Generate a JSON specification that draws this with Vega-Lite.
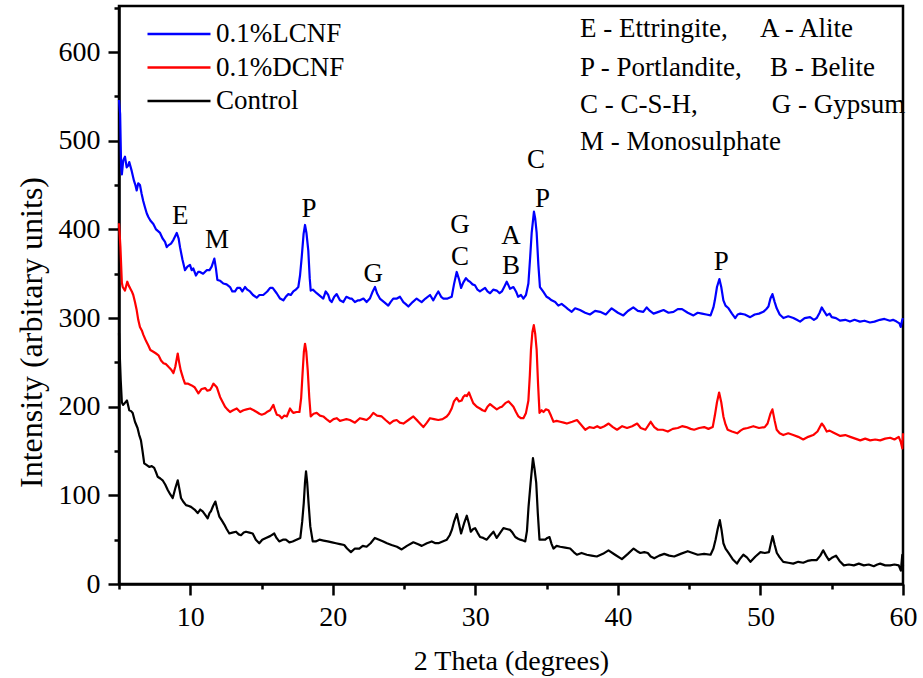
{
  "$schema": "https://vega.github.io/schema/vega-lite/v6.json",
  "width": 784,
  "height": 578,
  "autosize": {"type": "none"},
  "padding": {"left": 119, "top": 6, "right": 20, "bottom": 94},
  "config": {
    "font": "'Liberation Serif', 'Times New Roman', serif",
    "view": {"stroke": "black", "strokeWidth": 2.5},
    "axis": {"grid": false, "domainColor": "black", "domainWidth": 2.5, "tickColor": "black", "tickWidth": 2.5, "labelColor": "black", "labelFont": "'Liberation Serif', 'Times New Roman', serif", "labelFontSize": 28, "titleFont": "'Liberation Serif', 'Times New Roman', serif", "titleColor": "black", "titleFontWeight": "normal", "labelFlush": false, "labelOverlap": false}
  },
  "encoding": {
    "x": {"field": "x", "type": "quantitative", "scale": {"domain": [5, 60], "nice": false, "zero": false},
      "axis": {"title": "2 Theta (degrees)", "titleFontSize": 28, "values": [5,10,15,20,25,30,35,40,45,50,55,60],
        "tickSize": {"condition": {"test": "datum.value % 10 === 0", "value": 11}, "value": 5},
        "labelExpr": "datum.value % 10 === 0 && datum.value > 5 ? datum.label : ''",
        "labelPadding": 8, "titleY": 85, "titleBaseline": "alphabetic"}},
    "y": {"field": "y", "type": "quantitative", "scale": {"domain": [0, 652], "nice": false},
      "axis": {"title": "Intensity (arbitary units)", "titleFontSize": 32, "values": [0,50,100,150,200,250,300,350,400,450,500,550,600,650],
        "tickSize": {"condition": {"test": "datum.value % 100 === 0", "value": 11}, "value": 5},
        "labelExpr": "datum.value % 100 === 0 ? datum.label : ''",
        "labelPadding": 8, "titleX": -78, "titleY": 326, "titleAlign": "center", "titleBaseline": "alphabetic", "titleAngle": 270}}
  },
  "layer": [
    {
      "data": {"values": [
        {"x":5.0,"y":546},{"x":5.08,"y":530},{"x":5.15,"y":470},{"x":5.2,"y":462},{"x":5.3,"y":478},{"x":5.42,"y":482},{"x":5.54,"y":470},{"x":5.65,"y":472},{"x":5.72,"y":476},{"x":5.89,"y":466},
        {"x":6.05,"y":455},{"x":6.15,"y":450},{"x":6.24,"y":444},{"x":6.35,"y":452},{"x":6.47,"y":450},{"x":6.59,"y":440},{"x":6.7,"y":432},{"x":6.82,"y":425},{"x":6.95,"y":418},{"x":7.06,"y":414},
        {"x":7.2,"y":410},{"x":7.41,"y":406},{"x":7.6,"y":400},{"x":7.88,"y":396},{"x":8.05,"y":390},{"x":8.23,"y":386},{"x":8.35,"y":380},{"x":8.46,"y":382},{"x":8.65,"y":384},{"x":8.81,"y":388},
        {"x":9.05,"y":396},{"x":9.18,"y":390},{"x":9.28,"y":380},{"x":9.45,"y":366},{"x":9.63,"y":354},{"x":9.8,"y":358},{"x":9.98,"y":360},{"x":10.1,"y":354},{"x":10.21,"y":356},{"x":10.4,"y":348},
        {"x":10.55,"y":352},{"x":10.68,"y":352},{"x":10.9,"y":350},{"x":11.15,"y":354},{"x":11.35,"y":354},{"x":11.5,"y":358},{"x":11.69,"y":367},{"x":11.8,"y":356},{"x":11.9,"y":343},{"x":12.1,"y":342},
        {"x":12.32,"y":339},{"x":12.55,"y":338},{"x":12.79,"y":335},{"x":12.95,"y":330},{"x":13.14,"y":330},{"x":13.3,"y":334},{"x":13.49,"y":334},{"x":13.65,"y":330},{"x":13.84,"y":335},{"x":14.0,"y":332},
        {"x":14.19,"y":330},{"x":14.4,"y":326},{"x":14.66,"y":323},{"x":14.85,"y":326},{"x":15.12,"y":326},{"x":15.4,"y":330},{"x":15.6,"y":334},{"x":15.78,"y":334},{"x":16.06,"y":328},{"x":16.3,"y":322},
        {"x":16.53,"y":320},{"x":16.7,"y":324},{"x":16.88,"y":327},{"x":17.05,"y":326},{"x":17.23,"y":330},{"x":17.4,"y":332},{"x":17.58,"y":335},{"x":17.7,"y":348},{"x":17.82,"y":369},{"x":17.95,"y":395},
        {"x":18.05,"y":405},{"x":18.15,"y":396},{"x":18.28,"y":376},{"x":18.38,"y":345},{"x":18.45,"y":331},{"x":18.6,"y":332},{"x":18.87,"y":328},{"x":19.1,"y":325},{"x":19.33,"y":322},{"x":19.5,"y":330},
        {"x":19.68,"y":326},{"x":19.8,"y":320},{"x":19.92,"y":318},{"x":20.1,"y":324},{"x":20.27,"y":327},{"x":20.5,"y":320},{"x":20.73,"y":318},{"x":20.95,"y":324},{"x":21.2,"y":322},{"x":21.32,"y":322},
        {"x":21.55,"y":318},{"x":21.78,"y":320},{"x":21.9,"y":320},{"x":22.15,"y":322},{"x":22.37,"y":318},{"x":22.6,"y":322},{"x":22.8,"y":330},{"x":22.96,"y":335},{"x":23.1,"y":328},{"x":23.3,"y":322},
        {"x":23.6,"y":318},{"x":23.89,"y":314},{"x":24.05,"y":318},{"x":24.24,"y":322},{"x":24.5,"y":322},{"x":24.71,"y":324},{"x":24.95,"y":318},{"x":25.1,"y":316},{"x":25.3,"y":313},{"x":25.6,"y":318},
        {"x":25.88,"y":322},{"x":26.05,"y":320},{"x":26.23,"y":318},{"x":26.5,"y":322},{"x":26.82,"y":326},{"x":27.05,"y":320},{"x":27.25,"y":326},{"x":27.4,"y":330},{"x":27.6,"y":324},{"x":27.76,"y":322},
        {"x":28.05,"y":322},{"x":28.34,"y":324},{"x":28.5,"y":338},{"x":28.69,"y":352},{"x":28.85,"y":344},{"x":29.0,"y":334},{"x":29.15,"y":340},{"x":29.34,"y":345},{"x":29.5,"y":342},{"x":29.62,"y":341},
        {"x":29.8,"y":338},{"x":29.97,"y":337},{"x":30.15,"y":332},{"x":30.32,"y":330},{"x":30.5,"y":332},{"x":30.68,"y":334},{"x":30.85,"y":330},{"x":31.03,"y":328},{"x":31.25,"y":332},{"x":31.5,"y":331},
        {"x":31.7,"y":328},{"x":31.86,"y":330},{"x":32.05,"y":336},{"x":32.2,"y":341},{"x":32.35,"y":336},{"x":32.43,"y":333},{"x":32.67,"y":335},{"x":32.85,"y":330},{"x":33.0,"y":324},{"x":33.2,"y":326},
        {"x":33.37,"y":322},{"x":33.55,"y":326},{"x":33.72,"y":339},{"x":33.85,"y":370},{"x":33.95,"y":396},{"x":34.11,"y":420},{"x":34.2,"y":412},{"x":34.3,"y":396},{"x":34.42,"y":360},{"x":34.53,"y":335},
        {"x":34.75,"y":330},{"x":35.0,"y":324},{"x":35.2,"y":322},{"x":35.35,"y":320},{"x":35.6,"y":318},{"x":35.82,"y":314},{"x":36.05,"y":316},{"x":36.29,"y":313},{"x":36.5,"y":310},{"x":36.76,"y":307},
        {"x":37.0,"y":311},{"x":37.34,"y":309},{"x":37.7,"y":306},{"x":38.04,"y":304},{"x":38.4,"y":308},{"x":38.75,"y":307},{"x":39.15,"y":304},{"x":39.56,"y":311},{"x":40.0,"y":306},{"x":40.38,"y":303},
        {"x":40.7,"y":308},{"x":41.08,"y":312},{"x":41.4,"y":308},{"x":41.78,"y":307},{"x":42.02,"y":312},{"x":42.25,"y":308},{"x":42.5,"y":305},{"x":42.85,"y":307},{"x":43.2,"y":309},{"x":43.55,"y":306},
        {"x":43.9,"y":307},{"x":44.2,"y":310},{"x":44.5,"y":310},{"x":44.9,"y":306},{"x":45.3,"y":303},{"x":45.6,"y":306},{"x":45.9,"y":305},{"x":46.2,"y":304},{"x":46.5,"y":303},{"x":46.7,"y":312},
        {"x":46.8,"y":320},{"x":46.95,"y":335},{"x":47.12,"y":344},{"x":47.25,"y":335},{"x":47.4,"y":320},{"x":47.55,"y":314},{"x":47.76,"y":311},{"x":48.0,"y":305},{"x":48.23,"y":300},{"x":48.4,"y":304},
        {"x":48.58,"y":305},{"x":48.9,"y":304},{"x":49.28,"y":301},{"x":49.6,"y":304},{"x":49.9,"y":305},{"x":50.2,"y":307},{"x":50.4,"y":310},{"x":50.56,"y":313},{"x":50.7,"y":322},{"x":50.84,"y":327},
        {"x":51.0,"y":318},{"x":51.14,"y":311},{"x":51.35,"y":304},{"x":51.61,"y":300},{"x":51.95,"y":302},{"x":52.31,"y":300},{"x":52.55,"y":298},{"x":52.78,"y":296},{"x":53.1,"y":300},{"x":53.48,"y":301},
        {"x":53.75,"y":298},{"x":53.95,"y":300},{"x":54.15,"y":306},{"x":54.3,"y":312},{"x":54.45,"y":308},{"x":54.65,"y":303},{"x":54.85,"y":305},{"x":55.0,"y":301},{"x":55.3,"y":300},{"x":55.58,"y":297},
        {"x":55.95,"y":298},{"x":56.28,"y":296},{"x":56.6,"y":298},{"x":56.98,"y":296},{"x":57.3,"y":297},{"x":57.68,"y":295},{"x":58.0,"y":296},{"x":58.38,"y":298},{"x":58.7,"y":299},{"x":59.08,"y":297},
        {"x":59.3,"y":298},{"x":59.55,"y":296},{"x":59.75,"y":294},{"x":59.84,"y":290},{"x":59.95,"y":298},{"x":60.0,"y":300}
      ]},
      "mark": {"type": "line", "strokeWidth": 2.2, "strokeJoin": "round"},
      "encoding": {"color": {"datum": "0.1%LCNF", "type": "nominal",
        "scale": {"domain": ["0.1%LCNF", "0.1%DCNF", "Control"], "range": ["#0000ff", "#ff0000", "#000000"]},
        "legend": {"orient": "none", "legendX": 41, "legendY": 9, "title": null, "symbolType": "M-1.8,0H1.8", "symbolSize": 1225, "symbolStrokeWidth": 2.5, "labelFont": "'Liberation Serif', 'Times New Roman', serif", "labelFontSize": 27, "labelColor": "black", "labelOffset": 18, "rowPadding": 1.5, "padding": 0}}}
    },
    {
      "data": {"values": [
        {"x":5.0,"y":407},{"x":5.1,"y":380},{"x":5.2,"y":340},{"x":5.26,"y":335},{"x":5.42,"y":331},{"x":5.58,"y":341},{"x":5.7,"y":336},{"x":5.77,"y":334},{"x":5.9,"y":330},{"x":6.0,"y":326},
        {"x":6.12,"y":318},{"x":6.24,"y":309},{"x":6.35,"y":298},{"x":6.47,"y":290},{"x":6.6,"y":286},{"x":6.71,"y":281},{"x":6.9,"y":274},{"x":7.06,"y":269},{"x":7.2,"y":264},{"x":7.41,"y":262},
        {"x":7.6,"y":260},{"x":7.77,"y":258},{"x":7.95,"y":252},{"x":8.12,"y":249},{"x":8.3,"y":248},{"x":8.47,"y":245},{"x":8.65,"y":242},{"x":8.82,"y":238},{"x":8.95,"y":245},{"x":9.05,"y":254},
        {"x":9.12,"y":260},{"x":9.22,"y":250},{"x":9.33,"y":241},{"x":9.5,"y":232},{"x":9.63,"y":226},{"x":9.85,"y":226},{"x":10.1,"y":224},{"x":10.3,"y":222},{"x":10.57,"y":215},{"x":10.8,"y":220},
        {"x":11.04,"y":221},{"x":11.2,"y":218},{"x":11.39,"y":219},{"x":11.5,"y":222},{"x":11.62,"y":226},{"x":11.75,"y":224},{"x":11.86,"y":222},{"x":12.09,"y":211},{"x":12.25,"y":206},{"x":12.44,"y":200},
        {"x":12.6,"y":197},{"x":12.79,"y":194},{"x":13.0,"y":196},{"x":13.26,"y":198},{"x":13.5,"y":194},{"x":13.73,"y":196},{"x":13.95,"y":197},{"x":14.2,"y":198},{"x":14.45,"y":196},{"x":14.66,"y":194},
        {"x":14.85,"y":192},{"x":15.01,"y":191},{"x":15.2,"y":192},{"x":15.37,"y":194},{"x":15.6,"y":196},{"x":15.83,"y":202},{"x":15.95,"y":196},{"x":16.07,"y":191},{"x":16.25,"y":190},{"x":16.42,"y":187},
        {"x":16.6,"y":190},{"x":16.77,"y":189},{"x":16.9,"y":194},{"x":17.0,"y":198},{"x":17.12,"y":195},{"x":17.24,"y":193},{"x":17.45,"y":194},{"x":17.66,"y":194},{"x":17.78,"y":210},{"x":17.89,"y":241},
        {"x":17.97,"y":262},{"x":18.05,"y":271},{"x":18.14,"y":262},{"x":18.24,"y":241},{"x":18.35,"y":210},{"x":18.45,"y":189},{"x":18.65,"y":192},{"x":18.87,"y":193},{"x":19.1,"y":190},{"x":19.33,"y":189},
        {"x":19.55,"y":186},{"x":19.8,"y":183},{"x":20.05,"y":186},{"x":20.27,"y":187},{"x":20.5,"y":184},{"x":20.73,"y":185},{"x":20.95,"y":186},{"x":21.2,"y":185},{"x":21.55,"y":182},{"x":21.9,"y":187},
        {"x":22.15,"y":186},{"x":22.37,"y":185},{"x":22.6,"y":188},{"x":22.84,"y":193},{"x":23.1,"y":190},{"x":23.43,"y":189},{"x":23.7,"y":185},{"x":24.0,"y":181},{"x":24.25,"y":184},{"x":24.48,"y":185},
        {"x":24.7,"y":182},{"x":24.95,"y":181},{"x":25.3,"y":185},{"x":25.65,"y":189},{"x":25.95,"y":184},{"x":26.35,"y":177},{"x":26.6,"y":182},{"x":26.82,"y":187},{"x":27.1,"y":186},{"x":27.4,"y":185},
        {"x":27.7,"y":186},{"x":27.99,"y":189},{"x":28.15,"y":192},{"x":28.34,"y":198},{"x":28.5,"y":206},{"x":28.69,"y":210},{"x":28.85,"y":206},{"x":29.04,"y":207},{"x":29.15,"y":211},{"x":29.27,"y":213},
        {"x":29.4,"y":212},{"x":29.55,"y":216},{"x":29.7,"y":210},{"x":29.85,"y":204},{"x":30.1,"y":200},{"x":30.32,"y":198},{"x":30.5,"y":196},{"x":30.68,"y":195},{"x":30.85,"y":200},{"x":31.03,"y":203},
        {"x":31.25,"y":200},{"x":31.5,"y":197},{"x":31.7,"y":199},{"x":31.86,"y":200},{"x":32.1,"y":204},{"x":32.32,"y":206},{"x":32.5,"y":203},{"x":32.67,"y":200},{"x":32.85,"y":194},{"x":33.02,"y":189},
        {"x":33.2,"y":187},{"x":33.37,"y":187},{"x":33.55,"y":193},{"x":33.72,"y":207},{"x":33.82,"y":235},{"x":33.9,"y":264},{"x":34.0,"y":284},{"x":34.1,"y":292},{"x":34.2,"y":282},{"x":34.3,"y":264},
        {"x":34.4,"y":225},{"x":34.5,"y":193},{"x":34.65,"y":196},{"x":34.78,"y":194},{"x":34.95,"y":197},{"x":35.13,"y":196},{"x":35.3,"y":190},{"x":35.48,"y":183},{"x":35.7,"y":184},{"x":35.95,"y":183},
        {"x":36.2,"y":182},{"x":36.42,"y":181},{"x":36.8,"y":183},{"x":37.13,"y":185},{"x":37.4,"y":180},{"x":37.71,"y":174},{"x":38.0,"y":177},{"x":38.3,"y":176},{"x":38.55,"y":178},{"x":38.77,"y":176},
        {"x":39.05,"y":178},{"x":39.35,"y":181},{"x":39.65,"y":177},{"x":39.94,"y":174},{"x":40.3,"y":178},{"x":40.64,"y":176},{"x":41.0,"y":178},{"x":41.35,"y":181},{"x":41.6,"y":176},{"x":41.93,"y":174},
        {"x":42.1,"y":178},{"x":42.3,"y":183},{"x":42.55,"y":177},{"x":42.8,"y":174},{"x":43.15,"y":174},{"x":43.5,"y":172},{"x":43.85,"y":175},{"x":44.2,"y":176},{"x":44.5,"y":178},{"x":44.8,"y":177},
        {"x":45.1,"y":175},{"x":45.35,"y":174},{"x":45.7,"y":176},{"x":46.05,"y":177},{"x":46.35,"y":175},{"x":46.65,"y":177},{"x":46.8,"y":190},{"x":46.95,"y":205},{"x":47.1,"y":216},{"x":47.25,"y":205},
        {"x":47.4,"y":189},{"x":47.55,"y":180},{"x":47.7,"y":174},{"x":48.0,"y":172},{"x":48.37,"y":170},{"x":48.6,"y":173},{"x":48.8,"y":175},{"x":49.1,"y":176},{"x":49.5,"y":178},{"x":49.9,"y":176},
        {"x":50.3,"y":177},{"x":50.5,"y":181},{"x":50.7,"y":192},{"x":50.84,"y":197},{"x":51.0,"y":184},{"x":51.14,"y":174},{"x":51.35,"y":170},{"x":51.6,"y":168},{"x":51.95,"y":170},{"x":52.3,"y":168},
        {"x":52.65,"y":166},{"x":53.0,"y":163},{"x":53.35,"y":166},{"x":53.7,"y":168},{"x":54.0,"y":172},{"x":54.3,"y":181},{"x":54.45,"y":178},{"x":54.65,"y":172},{"x":54.85,"y":173},{"x":55.1,"y":171},
        {"x":55.35,"y":169},{"x":55.6,"y":167},{"x":55.95,"y":168},{"x":56.3,"y":166},{"x":56.65,"y":164},{"x":57.0,"y":162},{"x":57.35,"y":164},{"x":57.7,"y":162},{"x":58.05,"y":163},{"x":58.4,"y":162},
        {"x":58.75,"y":164},{"x":59.1,"y":165},{"x":59.4,"y":163},{"x":59.7,"y":166},{"x":59.85,"y":160},{"x":59.95,"y":153},{"x":60.0,"y":170}
      ]},
      "mark": {"type": "line", "strokeWidth": 2.2, "strokeJoin": "round"},
      "encoding": {"color": {"datum": "0.1%DCNF", "type": "nominal"}}
    },
    {
      "data": {"values": [
        {"x":5.0,"y":283},{"x":5.05,"y":260},{"x":5.12,"y":230},{"x":5.2,"y":205},{"x":5.28,"y":202},{"x":5.4,"y":204},{"x":5.56,"y":207},{"x":5.72,"y":196},{"x":5.85,"y":195},{"x":5.96,"y":193},
        {"x":6.12,"y":183},{"x":6.3,"y":176},{"x":6.42,"y":168},{"x":6.54,"y":162},{"x":6.65,"y":150},{"x":6.77,"y":136},{"x":6.95,"y":134},{"x":7.12,"y":132},{"x":7.3,"y":133},{"x":7.47,"y":131},
        {"x":7.6,"y":126},{"x":7.71,"y":121},{"x":7.9,"y":119},{"x":8.06,"y":117},{"x":8.25,"y":112},{"x":8.42,"y":106},{"x":8.6,"y":101},{"x":8.77,"y":97},{"x":8.95,"y":108},{"x":9.12,"y":117},
        {"x":9.25,"y":106},{"x":9.35,"y":97},{"x":9.5,"y":93},{"x":9.7,"y":89},{"x":9.9,"y":88},{"x":10.05,"y":87},{"x":10.3,"y":84},{"x":10.52,"y":80},{"x":10.7,"y":84},{"x":10.87,"y":82},
        {"x":11.05,"y":78},{"x":11.22,"y":74},{"x":11.35,"y":80},{"x":11.45,"y":82},{"x":11.6,"y":88},{"x":11.76,"y":93},{"x":11.9,"y":84},{"x":12.04,"y":76},{"x":12.2,"y":72},{"x":12.39,"y":67},
        {"x":12.55,"y":62},{"x":12.74,"y":57},{"x":12.95,"y":58},{"x":13.21,"y":59},{"x":13.4,"y":56},{"x":13.56,"y":55},{"x":13.75,"y":58},{"x":13.91,"y":59},{"x":14.15,"y":58},{"x":14.38,"y":57},
        {"x":14.6,"y":50},{"x":14.84,"y":46},{"x":15.05,"y":50},{"x":15.31,"y":52},{"x":15.6,"y":54},{"x":15.89,"y":57},{"x":16.05,"y":52},{"x":16.24,"y":48},{"x":16.5,"y":50},{"x":16.71,"y":50},
        {"x":16.95,"y":47},{"x":17.18,"y":48},{"x":17.45,"y":50},{"x":17.72,"y":52},{"x":17.85,"y":70},{"x":17.96,"y":91},{"x":18.05,"y":115},{"x":18.12,"y":127},{"x":18.2,"y":115},{"x":18.3,"y":91},
        {"x":18.42,"y":65},{"x":18.59,"y":48},{"x":18.8,"y":48},{"x":19.06,"y":50},{"x":19.35,"y":49},{"x":19.64,"y":48},{"x":19.95,"y":47},{"x":20.22,"y":46},{"x":20.5,"y":45},{"x":20.8,"y":44},
        {"x":21.0,"y":40},{"x":21.27,"y":36},{"x":21.55,"y":40},{"x":21.86,"y":40},{"x":22.1,"y":43},{"x":22.37,"y":42},{"x":22.65,"y":46},{"x":22.95,"y":52},{"x":23.25,"y":50},{"x":23.54,"y":48},
        {"x":23.8,"y":46},{"x":24.12,"y":44},{"x":24.5,"y":42},{"x":24.83,"y":39},{"x":25.2,"y":43},{"x":25.65,"y":47},{"x":25.95,"y":45},{"x":26.24,"y":43},{"x":26.6,"y":46},{"x":26.94,"y":48},
        {"x":27.2,"y":46},{"x":27.41,"y":46},{"x":27.7,"y":48},{"x":28.0,"y":50},{"x":28.2,"y":55},{"x":28.35,"y":61},{"x":28.5,"y":70},{"x":28.7,"y":79},{"x":28.85,"y":68},{"x":29.0,"y":57},
        {"x":29.2,"y":68},{"x":29.4,"y":77},{"x":29.55,"y":68},{"x":29.68,"y":59},{"x":29.85,"y":62},{"x":29.98,"y":63},{"x":30.15,"y":58},{"x":30.33,"y":53},{"x":30.55,"y":52},{"x":30.8,"y":50},
        {"x":31.05,"y":55},{"x":31.27,"y":59},{"x":31.5,"y":52},{"x":31.75,"y":58},{"x":31.97,"y":63},{"x":32.2,"y":62},{"x":32.44,"y":61},{"x":32.6,"y":58},{"x":32.8,"y":53},{"x":33.0,"y":51},
        {"x":33.15,"y":50},{"x":33.35,"y":49},{"x":33.5,"y":48},{"x":33.62,"y":60},{"x":33.73,"y":87},{"x":33.88,"y":115},{"x":34.04,"y":142},{"x":34.15,"y":130},{"x":34.27,"y":114},{"x":34.38,"y":80},
        {"x":34.5,"y":50},{"x":34.7,"y":50},{"x":34.9,"y":50},{"x":35.05,"y":52},{"x":35.2,"y":53},{"x":35.35,"y":45},{"x":35.48,"y":40},{"x":35.7,"y":43},{"x":35.95,"y":42},{"x":36.3,"y":41},
        {"x":36.65,"y":40},{"x":36.9,"y":36},{"x":37.12,"y":33},{"x":37.45,"y":35},{"x":37.82,"y":33},{"x":38.15,"y":32},{"x":38.52,"y":31},{"x":38.95,"y":34},{"x":39.34,"y":38},{"x":39.8,"y":33},
        {"x":40.28,"y":28},{"x":40.7,"y":34},{"x":41.1,"y":40},{"x":41.35,"y":37},{"x":41.57,"y":35},{"x":41.85,"y":36},{"x":42.1,"y":35},{"x":42.3,"y":31},{"x":42.55,"y":29},{"x":42.9,"y":32},
        {"x":43.25,"y":34},{"x":43.6,"y":32},{"x":43.95,"y":31},{"x":44.4,"y":34},{"x":44.9,"y":37},{"x":45.25,"y":35},{"x":45.6,"y":33},{"x":46.05,"y":34},{"x":46.5,"y":33},{"x":46.7,"y":40},
        {"x":46.85,"y":50},{"x":47.0,"y":62},{"x":47.15,"y":72},{"x":47.28,"y":60},{"x":47.4,"y":46},{"x":47.55,"y":40},{"x":47.76,"y":35},{"x":48.05,"y":28},{"x":48.35,"y":23},{"x":48.55,"y":28},
        {"x":48.8,"y":33},{"x":49.05,"y":30},{"x":49.3,"y":25},{"x":49.65,"y":31},{"x":50.0,"y":36},{"x":50.3,"y":35},{"x":50.6,"y":36},{"x":50.72,"y":45},{"x":50.85,"y":54},{"x":51.0,"y":44},
        {"x":51.15,"y":35},{"x":51.35,"y":30},{"x":51.6,"y":25},{"x":51.95,"y":24},{"x":52.3,"y":23},{"x":52.65,"y":25},{"x":53.0,"y":24},{"x":53.3,"y":26},{"x":53.6,"y":27},{"x":53.95,"y":27},
        {"x":54.2,"y":32},{"x":54.4,"y":38},{"x":54.6,"y":32},{"x":54.8,"y":27},{"x":55.05,"y":30},{"x":55.3,"y":32},{"x":55.55,"y":26},{"x":55.85,"y":21},{"x":56.2,"y":22},{"x":56.55,"y":21},
        {"x":56.9,"y":23},{"x":57.25,"y":21},{"x":57.6,"y":22},{"x":57.95,"y":20},{"x":58.2,"y":22},{"x":58.4,"y":23},{"x":58.75,"y":21},{"x":59.1,"y":21},{"x":59.4,"y":22},{"x":59.7,"y":21},
        {"x":59.85,"y":15},{"x":59.95,"y":33},{"x":60.0,"y":20}
      ]},
      "mark": {"type": "line", "strokeWidth": 2.2, "strokeJoin": "round"},
      "encoding": {"color": {"datum": "Control", "type": "nominal"}}
    },
    {
      "data": {"values": [
        {"x":9.30,"y":406,"label":"E"},{"x":11.87,"y":379,"label":"M"},{"x":18.33,"y":414,"label":"P"},{"x":22.84,"y":341,"label":"G"},
        {"x":28.92,"y":395.5,"label":"G"},{"x":28.92,"y":360,"label":"C"},{"x":32.5,"y":384,"label":"A"},{"x":32.5,"y":350,"label":"B"},
        {"x":34.25,"y":469,"label":"C"},{"x":34.71,"y":425.5,"label":"P"},{"x":47.25,"y":354,"label":"P"}
      ]},
      "mark": {"type": "text", "align": "center", "baseline": "alphabetic", "font": "'Liberation Serif', 'Times New Roman', serif", "fontSize": 27, "color": "black"},
      "encoding": {"text": {"field": "label", "type": "nominal"}}
    },
    {
      "data": {"values": [
        {"x":37.34,"y":617,"label":"E - Ettringite,"},{"x":49.97,"y":617,"label":"A - Alite"},
        {"x":37.34,"y":573,"label":"P - Portlandite,"},{"x":50.67,"y":573,"label":"B - Belite"},
        {"x":37.34,"y":531,"label":"C - C-S-H,"},{"x":50.8,"y":531,"label":"G - Gypsum"},
        {"x":37.34,"y":489.5,"label":"M - Monosulphate"}
      ]},
      "mark": {"type": "text", "align": "left", "baseline": "alphabetic", "font": "'Liberation Serif', 'Times New Roman', serif", "fontSize": 27, "color": "black"},
      "encoding": {"text": {"field": "label", "type": "nominal"}}
    }
  ]
}
